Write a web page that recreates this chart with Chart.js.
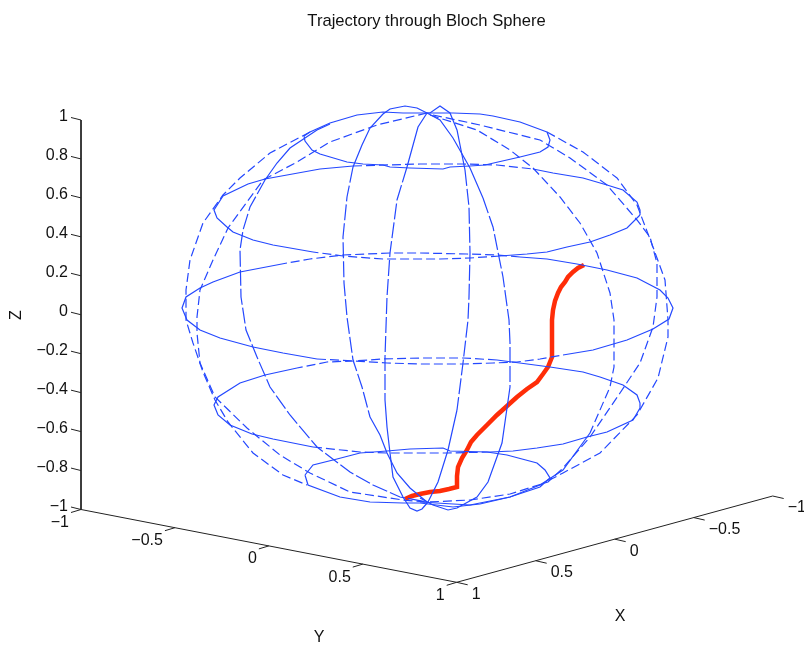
<!DOCTYPE html>
<html lang="en">
<head>
  <meta charset="UTF-8">
  <title>Trajectory through Bloch Sphere</title>
  <script src="https://cdn.jsdelivr.net/npm/chart.js"></script>
  <style>
    html, body { margin: 0; background: #fff; }
    canvas { display: block; }
  </style>
</head>
<body>
  <canvas id="bloch" width="804" height="646"></canvas>
  <script>
    // tick labels per axis
    const zTicks = [1, 0.8, 0.6, 0.4, 0.2, 0, -0.2, -0.4, -0.6, -0.8, -1];
    const yTicks = [-1, -0.5, 0, 0.5, 1];
    const xTicks = [1, 0.5, 0, -0.5, -1];

    // all curves are read off the picture, in page units of the projected view
    // latitude rings
    const ringTopFront = [[304,136],[305,141],[312,150],[320,154],[347,162],[363,164],[383,165],[390,167],[410,168],[443,169],[450,167],[470,166],[485,165],[498,162],[520,157],[540,152],[548,147],[550,140],[547,132]];
    const ringTopBack = [[547,132],[520,122],[493,116],[480,114],[453,113],[430,113],[403,113],[383,112],[357,115],[330,123],[310,132],[304,136]];
    const ringUpperSolidA = [[640,215],[627,228],[610,235],[590,242],[567,247],[547,252],[527,254],[500,256]];
    const ringUpperDashA = [[500,256],[470,258],[440,259],[383,259],[343,256],[313,252]];
    const ringUpperSolidB = [[313,252],[273,245],[253,240],[233,232],[227,227],[217,218],[214,210],[223,196],[248,184],[265,179],[287,175],[320,169],[353,166]];
    const ringUpperDashB = [[353,166],[420,164],[463,164],[497,165],[533,169]];
    const ringUpperSolidC = [[533,169],[553,173],[583,178],[607,185],[623,190],[637,202],[640,210],[640,215]];
    const ringMidSolidA = [[287,263],[240,272],[213,282],[200,288],[186,297],[182,308],[187,320],[200,330],[220,338],[253,347],[283,353],[317,359]];
    const ringMidDashA = [[317,359],[353,361],[387,363],[420,364],[463,364],[493,363],[517,362],[540,359],[563,355]];
    const ringMidSolidB = [[563,355],[593,350],[627,340],[653,329],[669,319],[673,308],[668,298],[660,290],[637,278],[607,270],[577,264],[547,259],[520,257]];
    const ringMidDashB = [[520,257],[497,255],[467,254],[420,253],[390,253],[343,255],[310,259],[287,263]];
    const ringLowerSolidA = [[297,368],[265,375],[240,383],[218,397],[214,405],[218,415],[230,425],[252,434],[273,439],[313,447]];
    const ringLowerDashA = [[313,447],[360,452],[387,453],[420,453],[447,453],[490,452]];
    const ringLowerSolidB = [[490,452],[513,451],[537,448],[563,444],[587,437],[607,432],[633,420],[640,408],[640,403],[637,395],[623,385],[600,377],[583,372],[550,367],[497,360]];
    const ringLowerDashB = [[497,360],[463,358],[420,358],[383,359],[353,361],[327,362],[297,368]];
    const ringBottom = [[305,475],[313,465],[337,459],[360,453],[387,451],[410,449],[443,448],[450,451],[487,452],[507,455],[537,463],[545,470],[550,478],[540,487],[510,497],[480,504],[453,507],[420,503],[403,503],[370,502],[340,497],[308,485],[305,475]];

    // meridians, left half
    const lonOuterLeftDash = [[310,132],[270,153],[240,178],[223,195],[203,223],[190,260],[186,290],[186,320],[193,343],[203,372],[215,400],[228,422],[253,453],[283,475],[307,485]];
    const lonSecondLeftDash = [[427,113],[377,125],[330,142],[297,162],[263,180],[228,228],[213,260],[200,290],[197,317],[197,333],[200,363],[215,397],[247,428],[280,455],[310,473],[350,492],[403,500],[427,502]];
    const lonThirdLeftSolidTop = [[330,124],[317,130],[290,148],[277,163],[265,180]];
    const lonThirdLeftDash = [[265,180],[250,207],[243,230],[240,250],[241,297],[246,330],[257,357],[270,387],[290,415],[317,447],[350,472],[373,485],[400,497],[427,502]];
    const lonFourthLeftSolidTop = [[427,113],[417,108],[405,106],[390,109],[383,114],[370,128],[362,145],[353,167]];
    const lonFourthLeftDash = [[353,167],[347,197],[343,237],[344,283],[347,317],[353,360],[362,387],[370,417]];
    const lonFourthLeftSolidBot = [[370,417],[380,435],[387,453],[397,473],[410,488],[427,502]];
    const lonInnerLeftSolidTop = [[427,113],[418,127],[407,167]];
    const lonInnerLeftDash = [[407,167],[397,200],[390,253],[387,297],[385,357],[385,400]];
    const lonInnerLeftSolidBot = [[385,400],[387,427],[390,453],[393,477],[403,497],[410,508],[417,511],[422,509],[428,502]];

    // meridians, right half
    const lonInnerRightSolidTop = [[427,113],[430,113],[440,106],[450,113],[457,130],[465,170]];
    const lonInnerRightDash = [[465,170],[469,207],[470,253],[469,297],[468,320],[463,363],[457,410]];
    const lonInnerRightSolidBot = [[457,410],[448,450],[438,482],[428,502]];
    const lonFourthRightSolidTop = [[427,113],[440,120],[453,138],[470,168],[483,198]];
    const lonFourthRightDash = [[483,198],[493,227],[503,277],[509,320],[510,343],[510,387]];
    const lonFourthRightSolidBot = [[510,387],[502,443],[488,482],[477,497],[457,508],[448,510],[433,505],[420,498]];
    const lonThirdRightDash = [[430,115],[477,130],[510,150],[533,168],[560,197],[580,223],[597,253],[610,293],[614,320],[614,367],[610,387],[590,433]];
    const lonThirdRightSolid = [[590,433],[563,470],[540,485],[510,497],[470,505],[420,502]];
    const lonSecondRightDash = [[433,115],[480,125],[540,140],[570,158],[607,185],[637,220],[650,237],[657,263],[657,297],[653,327],[640,363],[620,393],[590,437],[563,468],[548,482],[510,494],[470,500],[428,502]];
    const lonOuterRightDash = [[547,132],[583,152],[617,178],[637,205],[653,247],[665,280],[668,320],[668,337],[658,378],[637,415],[600,453],[563,473],[540,485]];

    // state trajectory
    const trajectory = [[584,265],[578,268],[573,272],[568,277],[565,282],[561,287],[558,293],[555,301],[553,310],[552,320],[552,333],[552,357],[550,362],[548,367],[543,374],[537,382],[527,389],[517,397],[507,406],[497,415],[487,425],[477,435],[471,442],[467,450],[462,458],[458,467],[457,476],[457,487],[449,489],[440,491],[430,492],[420,494],[412,496],[405,499]];

    const solidCurves = [ringTopFront, ringTopBack, ringUpperSolidA, ringUpperSolidB, ringUpperSolidC,
      ringMidSolidA, ringMidSolidB, ringLowerSolidA, ringLowerSolidB, ringBottom,
      lonThirdLeftSolidTop, lonFourthLeftSolidTop, lonFourthLeftSolidBot, lonInnerLeftSolidTop, lonInnerLeftSolidBot,
      lonInnerRightSolidTop, lonInnerRightSolidBot, lonFourthRightSolidTop, lonFourthRightSolidBot, lonThirdRightSolid];
    const shortDashCurves = [ringUpperDashA, ringUpperDashB, ringMidDashA, ringMidDashB, ringLowerDashA, ringLowerDashB,
      lonOuterLeftDash, lonSecondLeftDash, lonThirdRightDash, lonSecondRightDash, lonOuterRightDash];
    const longDashCurves = [lonThirdLeftDash, lonFourthLeftDash, lonInnerLeftDash, lonInnerRightDash, lonFourthRightDash];

    // corners of the axes box
    const cornerZTop = [81, 120];
    const cornerLeft = [81, 509.5];
    const cornerFront = [456.7, 582.3];
    const cornerRight = [772.7, 496];

    function along(a, b, t) {
      return [a[0] + (b[0] - a[0]) * t, a[1] + (b[1] - a[1]) * t];
    }
    function pts(list) {
      return list.map(p => ({x: p[0], y: p[1]}));
    }
    function line(list, color, width, dash) {
      return {data: pts(list), showLine: true, borderColor: color, borderWidth: width,
        borderDash: dash || [], pointRadius: 0, tension: 0, clip: false};
    }

    const datasets = [];
    solidCurves.forEach(c => datasets.push(line(c, '#2448ff', 1.2)));
    shortDashCurves.forEach(c => datasets.push(line(c, '#2448ff', 1.2, [9, 4])));
    longDashCurves.forEach(c => datasets.push(line(c, '#2448ff', 1.2, [16, 3])));
    datasets.push(line(trajectory, '#ff2d08', 4.5));

    // axis lines
    datasets.push(line([cornerZTop, cornerLeft, cornerFront, cornerRight], '#222', 1));

    // tick marks, each axis has its own lean
    const labels = [];
    zTicks.forEach(v => {
      const p = along(cornerLeft, cornerZTop, (v + 1) / 2);
      datasets.push(line([p, [p[0] - 10, p[1] - 2.5]], '#222', 1));
      labels.push({text: v, x: p[0] - 13, y: p[1] - 3, align: 'right'});
    });
    yTicks.forEach(v => {
      const p = along(cornerLeft, cornerFront, (v + 1) / 2);
      datasets.push(line([p, [p[0] - 10, p[1] + 3]], '#222', 1));
      labels.push({text: v, x: p[0] - 12, y: p[1] + 13, align: 'right'});
    });
    xTicks.forEach(v => {
      const p = along(cornerFront, cornerRight, (1 - v) / 2);
      datasets.push(line([p, [p[0] + 11, p[1] + 2.5]], '#222', 1));
      labels.push({text: v, x: p[0] + 15, y: p[1] + 12, align: 'left'});
    });

    const textPlugin = {
      id: 'textPlugin',
      afterDraw(chart) {
        const ctx = chart.ctx, sx = chart.scales.x, sy = chart.scales.y;
        ctx.save();
        ctx.fillStyle = '#111';
        ctx.textBaseline = 'middle';
        ctx.font = '16px "Liberation Sans", Arial, sans-serif';
        labels.forEach(l => {
          ctx.textAlign = l.align;
          ctx.fillText(String(l.text).replace('-', '\u2212'), sx.getPixelForValue(l.x), sy.getPixelForValue(l.y));
        });
        ctx.textAlign = 'center';
        ctx.fillText('X', sx.getPixelForValue(620), sy.getPixelForValue(617));
        ctx.fillText('Y', sx.getPixelForValue(319), sy.getPixelForValue(638));
        ctx.font = '16.6px "Liberation Sans", Arial, sans-serif';
        ctx.fillText('Trajectory through Bloch Sphere', sx.getPixelForValue(426.5), sy.getPixelForValue(21));
        ctx.font = '16px "Liberation Sans", Arial, sans-serif';
        ctx.translate(sx.getPixelForValue(17), sy.getPixelForValue(315));
        ctx.rotate(-Math.PI / 2);
        ctx.fillText('Z', 0, 0);
        ctx.restore();
      }
    };

    new Chart(document.getElementById('bloch').getContext('2d'), {
      type: 'scatter',
      data: {datasets: datasets},
      options: {
        responsive: false,
        animation: false,
        layout: {padding: 0},
        plugins: {legend: {display: false}, tooltip: {enabled: false}},
        scales: {
          x: {type: 'linear', min: 0, max: 804, display: false},
          y: {type: 'linear', min: 0, max: 646, reverse: true, display: false}
        }
      },
      plugins: [textPlugin]
    });
  </script>
</body>
</html>
